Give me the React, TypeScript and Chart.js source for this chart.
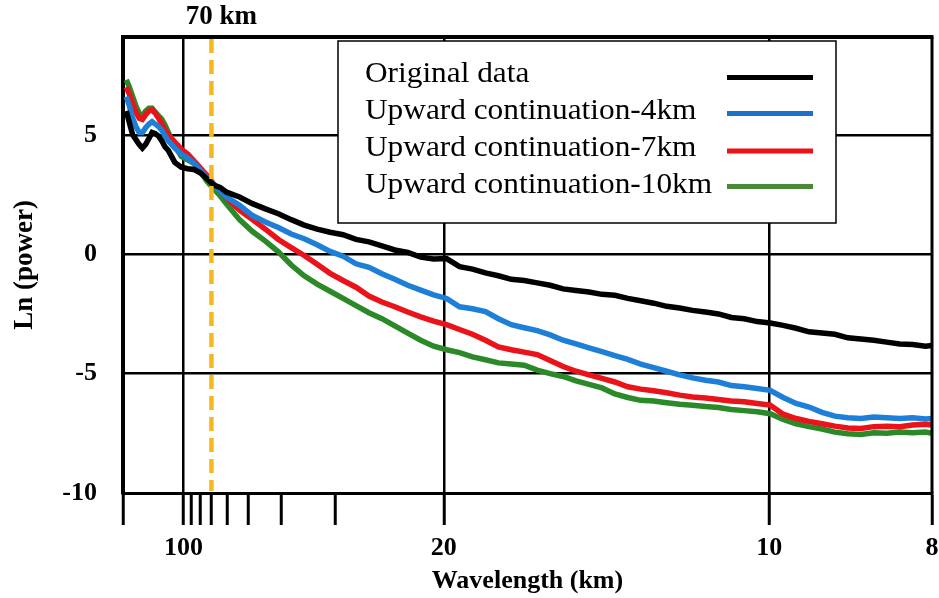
import React, { useEffect, useRef } from 'react';
import { Chart, registerables } from 'chart.js';

Chart.register(...registerables);

// Wavenumber (1/km) of each sample
const wavenumber = [
  0.0012, 0.00169, 0.00219, 0.00269, 0.00319, 0.00368, 0.00418, 0.00468, 0.00517, 0.00567,
  0.00617, 0.00667, 0.00716, 0.00766, 0.00816, 0.00866,
  0.00965, 0.01064, 0.01164, 0.01263, 0.01363, 0.01462, 0.01562, 0.01661,
  0.0186, 0.02059, 0.02258, 0.02457, 0.02655, 0.02854, 0.03053, 0.03252, 0.03451, 0.0365,
  0.03849, 0.04048, 0.04246, 0.04445, 0.04644, 0.04843, 0.05042, 0.05241, 0.0544, 0.05639,
  0.05838, 0.06036, 0.06235, 0.06434, 0.06633, 0.06832, 0.07031, 0.0723, 0.07429, 0.07627,
  0.07826, 0.08025, 0.08224, 0.08423, 0.08622, 0.08821, 0.0902, 0.09218, 0.09417, 0.09616,
  0.09815, 0.10014, 0.10213, 0.10412, 0.10611, 0.1081, 0.11008, 0.11207, 0.11406, 0.11605,
  0.11804, 0.12003, 0.12202, 0.12401, 0.125,
];

const originalData = [
  6.0, 5.5, 5.0, 4.8, 4.6, 4.45, 4.6, 4.85, 5.1, 5.05, 4.95, 4.75, 4.5, 4.35, 4.1, 3.85,
  3.65, 3.58, 3.55, 3.4, 3.15, 2.9, 2.8, 2.6,
  2.4, 2.12, 1.9, 1.7, 1.45, 1.22, 1.05, 0.92, 0.82, 0.62,
  0.52, 0.35, 0.18, 0.08, -0.12, -0.2, -0.18, -0.52, -0.62, -0.78,
  -0.9, -1.05, -1.1, -1.2, -1.3, -1.45, -1.52, -1.58, -1.68, -1.72,
  -1.85, -1.95, -2.05, -2.18, -2.25, -2.35, -2.42, -2.5, -2.65, -2.7,
  -2.82, -2.88, -2.98, -3.1, -3.25, -3.3, -3.35, -3.5, -3.55, -3.6,
  -3.68, -3.76, -3.78, -3.85, -3.82,
];

const upward4km = [
  6.6, 6.2, 5.7, 5.35, 5.1, 5.1, 5.3, 5.45, 5.55, 5.45, 5.35, 5.2, 4.95, 4.75, 4.6, 4.45,
  4.2, 4.03, 3.8, 3.5, 3.2, 2.9, 2.65, 2.4,
  2.05, 1.62, 1.35, 1.12, 0.85, 0.65, 0.4, 0.12, -0.08, -0.4,
  -0.55, -0.82, -1.05, -1.3, -1.5, -1.7, -1.85, -2.2, -2.28, -2.4,
  -2.7, -2.95, -3.08, -3.2, -3.38, -3.6, -3.75, -3.92, -4.08, -4.25,
  -4.4, -4.6, -4.75, -4.9, -5.05, -5.18, -5.28, -5.35, -5.5, -5.55,
  -5.62, -5.7, -6.0, -6.25, -6.4, -6.62, -6.78, -6.85, -6.88, -6.82,
  -6.85, -6.88, -6.85, -6.9, -6.88,
];

const upward7km = [
  7.0, 6.7, 6.3, 5.95, 5.7, 5.65, 5.85, 6.0, 6.05, 5.9, 5.7, 5.45, 5.2, 5.0, 4.85, 4.7,
  4.4, 4.2, 3.9, 3.6, 3.3, 2.95, 2.65, 2.35,
  1.85, 1.45, 1.05, 0.62, 0.28, -0.05, -0.42, -0.8, -1.1, -1.38,
  -1.75, -2.0, -2.2, -2.42, -2.62, -2.8, -2.95, -3.15, -3.35, -3.6,
  -3.88, -4.0, -4.1, -4.2, -4.45, -4.7, -4.9, -5.05, -5.2, -5.35,
  -5.55, -5.65, -5.72, -5.8, -5.9, -5.98, -6.02, -6.08, -6.15, -6.18,
  -6.25, -6.32, -6.7, -6.88, -7.0, -7.1, -7.2, -7.28, -7.3, -7.22,
  -7.2, -7.22, -7.15, -7.12, -7.15,
];

const upward10km = [
  7.3, 7.0, 6.6, 6.2, 5.9, 5.8, 6.0, 6.12, 6.12, 5.95, 5.8, 5.65, 5.4, 5.1, 4.8, 4.55,
  4.1, 3.95, 3.8, 3.45, 3.05, 2.75, 2.45, 2.1,
  1.45, 0.95, 0.55, 0.1, -0.45, -0.9, -1.25, -1.55, -1.85, -2.15,
  -2.45, -2.7, -3.0, -3.3, -3.6, -3.85, -4.0, -4.12, -4.3, -4.42,
  -4.55, -4.6, -4.65, -4.85, -5.0, -5.12, -5.3, -5.45, -5.6, -5.85,
  -6.0, -6.12, -6.15, -6.22, -6.28, -6.32, -6.38, -6.42, -6.5, -6.55,
  -6.6, -6.68, -6.92, -7.1, -7.22, -7.32, -7.45, -7.52, -7.55, -7.48,
  -7.5, -7.45, -7.48, -7.45, -7.5,
];

const seriesLabels = [
  'Original data',
  'Upward continuation-4km',
  'Upward continuation-7km',
  'Upward continuation-10km',
];
const seriesValues = [originalData, upward4km, upward7km, upward10km];
const seriesColors = ['#000000', '#1d7fd8', '#ea1319', '#2b8a27'];
const legendColors = ['#000000', '#1a73c8', '#ee1118', '#4a8a36'];

const xTickWavelengths = [100, 90, 80, 70, 60, 50, 40, 30, 20, 10, 8];
const xLabelledWavelengths = [100, 20, 10, 8];
const xGridWavelengths = [100, 20, 10];
const yTickValues = [-10, -5, 0, 5];

const markerWavelength = 70;
const markerLabel = '70 km';
const xTitle = 'Wavelength (km)';
const yTitle = 'Ln (power)';

const X_MIN = 0.0007;
const X_MAX = 0.125;
const Y_MIN = -10;
const Y_MAX = 9.1;

const FONT = '"Liberation Serif", "Times New Roman", serif';

const near = (a: number, b: number) => Math.abs(a - b) < 1e-7;

const overlayPlugin = {
  id: 'overlay',
  afterDatasetsDraw(chart: any) {
    const { ctx, chartArea, scales } = chart;
    const xs = scales.x;
    ctx.save();

    // dashed 70 km marker
    const mx = xs.getPixelForValue(1 / markerWavelength);
    ctx.strokeStyle = '#f6b81c';
    ctx.lineWidth = 4.5;
    ctx.setLineDash([14, 7]);
    ctx.beginPath();
    ctx.moveTo(mx, chartArea.top + 2);
    ctx.lineTo(mx, chartArea.bottom - 2);
    ctx.stroke();
    ctx.setLineDash([]);

    // top and right frame
    ctx.strokeStyle = '#000';
    ctx.lineWidth = 4;
    ctx.beginPath();
    ctx.moveTo(chartArea.left - 2, chartArea.top);
    ctx.lineTo(chartArea.right + 1.5, chartArea.top);
    ctx.stroke();
    ctx.lineWidth = 3;
    ctx.beginPath();
    ctx.moveTo(chartArea.right, chartArea.top);
    ctx.lineTo(chartArea.right, chartArea.bottom);
    ctx.stroke();

    // marker label
    ctx.fillStyle = '#000';
    ctx.font = `bold 27px ${FONT}`;
    ctx.textAlign = 'center';
    ctx.textBaseline = 'middle';
    ctx.fillText(markerLabel, mx + 10, 17);

    // legend box
    const bx = chartArea.left + 215;
    const by = chartArea.top + 4;
    const bw = 498;
    const bh = 182;
    ctx.fillStyle = '#fff';
    ctx.fillRect(bx, by, bw, bh);
    ctx.strokeStyle = '#000';
    ctx.lineWidth = 1.5;
    ctx.strokeRect(bx, by, bw, bh);

    const rowY = [74.5, 111.5, 148.5, 185.5];
    const lineY = [77.5, 113.5, 151, 186.5];
    seriesLabels.forEach((label, i) => {
      ctx.save();
      ctx.translate(bx + 27, rowY[i]);
      ctx.scale(1.08, 1);
      ctx.font = `29px ${FONT}`;
      ctx.fillStyle = '#000';
      ctx.textAlign = 'left';
      ctx.textBaseline = 'middle';
      ctx.fillText(label, 0, 0);
      ctx.restore();
      ctx.strokeStyle = legendColors[i];
      ctx.lineWidth = 5;
      ctx.beginPath();
      ctx.moveTo(bx + 389, lineY[i]);
      ctx.lineTo(bx + 475, lineY[i]);
      ctx.stroke();
    });

    ctx.restore();
  },
};

export default function App() {
  const ref = useRef<HTMLCanvasElement>(null);

  useEffect(() => {
    const canvas = ref.current;
    if (!canvas) return;

    const datasets = seriesValues.map((vals, s) => ({
      label: seriesLabels[s],
      data: wavenumber.map((k, i) => ({ x: k, y: vals[i] })),
      borderColor: seriesColors[s],
      backgroundColor: seriesColors[s],
      borderWidth: 5.5,
      pointRadius: 0,
      tension: 0,
      fill: false,
    }));

    const tickFont = { family: FONT, size: 26, weight: 'bold' as const };

    const chart = new Chart(canvas, {
      type: 'line',
      data: { datasets },
      plugins: [overlayPlugin],
      options: {
        animation: false,
        responsive: false,
        maintainAspectRatio: false,
        devicePixelRatio: 1,
        layout: { padding: { left: 0, top: 37, right: 7, bottom: 0 } },
        plugins: {
          legend: { display: false },
          tooltip: { enabled: false },
          title: { display: false },
        },
        scales: {
          x: {
            type: 'linear',
            min: X_MIN,
            max: X_MAX,
            afterBuildTicks: (scale: any) => {
              scale.ticks = [X_MIN, ...xTickWavelengths.map((w) => 1 / w)].map((v) => ({ value: v }));
            },
            afterFit: (scale: any) => {
              scale.height = 105;
              scale.paddingLeft = 0;
              scale.paddingRight = 0;
              scale.paddingTop = 0;
              scale.paddingBottom = 0;
            },
            ticks: {
              autoSkip: false,
              maxRotation: 0,
              minRotation: 0,
              padding: 8,
              color: '#000',
              font: tickFont,
              callback: (_v: any, index: number) => {
                if (index === 0) return '';
                const w = xTickWavelengths[index - 1];
                return xLabelledWavelengths.includes(w) ? String(w) : '';
              },
            },
            grid: {
              drawOnChartArea: true,
              drawTicks: true,
              tickLength: 32,
              tickWidth: 3,
              tickColor: '#000',
              lineWidth: 2.5,
              color: (ctx: any) => {
                const v = ctx.tick ? ctx.tick.value : NaN;
                return xGridWavelengths.some((w) => near(v, 1 / w)) ? '#000' : 'rgba(0,0,0,0)';
              },
            },
            border: { display: true, color: '#000', width: 3 },
            title: {
              display: true,
              text: xTitle,
              color: '#000',
              font: { family: FONT, size: 26, weight: 'bold' },
              padding: { top: 0, bottom: 1 },
            },
          },
          y: {
            type: 'linear',
            min: Y_MIN,
            max: Y_MAX,
            afterBuildTicks: (scale: any) => {
              scale.ticks = yTickValues.map((v) => ({ value: v }));
            },
            afterFit: (scale: any) => {
              scale.width = 123;
              scale.paddingTop = 0;
              scale.paddingBottom = 0;
            },
            ticks: {
              padding: 26,
              color: '#000',
              font: tickFont,
              callback: (v: any) => String(v),
            },
            grid: {
              drawOnChartArea: true,
              drawTicks: false,
              color: '#000',
              lineWidth: 2.5,
            },
            border: { display: true, color: '#000', width: 4 },
            title: {
              display: true,
              text: yTitle,
              color: '#000',
              font: { family: FONT, size: 27, weight: 'bold' },
              padding: { top: 9, bottom: 0 },
            },
          },
        },
      },
    } as any);

    return () => chart.destroy();
  }, []);

  return (
    <div style={{ position: 'absolute', left: 0, top: 0, width: 939, height: 598, background: '#fff' }}>
      <canvas ref={ref} width={939} height={598} style={{ display: 'block', width: 939, height: 598 }} />
    </div>
  );
}
